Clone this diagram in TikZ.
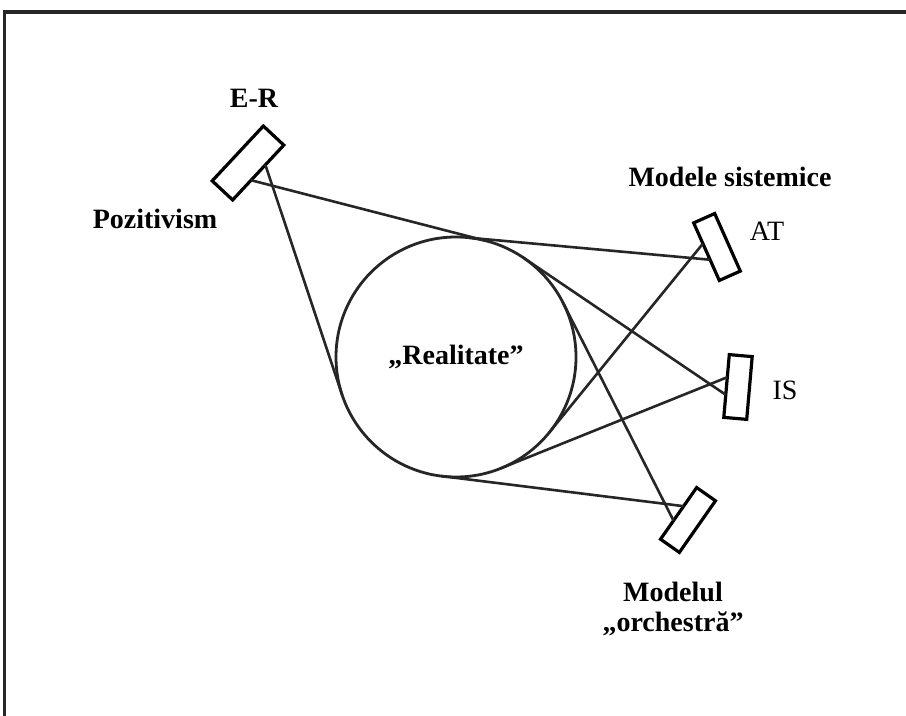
\documentclass[tikz,border=0pt]{standalone}
\usepackage{fontspec}
\setmainfont{Liberation Serif}
\usetikzlibrary{calc,positioning}
\begin{document}
\begin{tikzpicture}[x=0.5pt,y=-0.5pt,
  every node/.style={font=\fontsize{14}{15}\selectfont},
  lbl/.style={font=\fontsize{14}{15}\selectfont\bfseries},
  mirror/.style={draw=black,line width=1.6pt,rectangle,inner sep=0pt,outer sep=0pt,
    minimum width=31.5pt,minimum height=11.5pt},
  ray/.style={draw=black!85,line width=1.3pt}]
  \useasboundingbox (0,0) rectangle (906,716);
  \draw[black!85,line width=1.7pt] (4.5,716) -- (4.5,12) -- (906,12);
  \node[circle,draw=black!85,line width=1.4pt,minimum size=120pt,inner sep=0pt,
    outer sep=0pt,lbl] (real) at (456,357) {„Realitate”};
  \node[mirror,minimum width=37.5pt,minimum height=14pt,rotate=47] (er) at (248,163) {};
  \node[mirror,rotate=-66] (at) at (717,247) {};
  \node[mirror,rotate=-95] (is) at (738,387) {};
  \node[mirror,rotate=-125] (orch) at (688,520) {};
  \foreach \m in {er,at,is,orch} {
    \coordinate (\m-l) at ($(\m.south)!.28!(\m.south east)$);
    \coordinate (\m-r) at ($(\m.south)!.28!(\m.south west)$);
    \draw[ray] (\m-l) -- (tangent cs:node=real,point={(\m-l)},solution=1);
    \draw[ray] (\m-r) -- (tangent cs:node=real,point={(\m-r)},solution=2);
  }
  \node[lbl] (erlbl) at (254,98) {E-R};
  \node[lbl] (poz) at (155,219) {Pozitivism};
  \node[lbl] (sist) at (730,177) {Modele sistemice};
  \node (atlbl) at (767,231) {AT};
  \node (islbl) at (785,390) {IS};
  \node[lbl,align=center] (orchlbl) at (673,609) {Modelul\\„orchestră”};
\end{tikzpicture}
\end{document}
